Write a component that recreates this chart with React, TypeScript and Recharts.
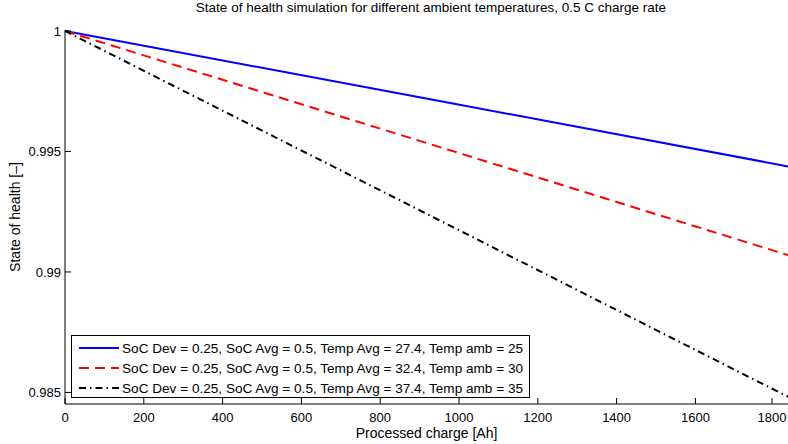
import { Line, LineChart, XAxis, YAxis } from 'recharts';

// values
const charge = [0, 900, 1835];
const sohAmb25 = [1, 0.99725, 0.99438];
const sohAmb30 = [1, 0.99544, 0.9907];
const sohAmb35 = [1, 0.99256, 0.98482];

const xTicks = [0, 200, 400, 600, 800, 1000, 1200, 1400, 1600, 1800];
const yTicks = [0.985, 0.99, 0.995, 1];
const yTickLabels = ['0.985', '0.99', '0.995', '1'];

const seriesNames = [
  'SoC Dev = 0.25, SoC Avg = 0.5, Temp Avg = 27.4, Temp amb = 25',
  'SoC Dev = 0.25, SoC Avg = 0.5, Temp Avg = 32.4, Temp amb = 30',
  'SoC Dev = 0.25, SoC Avg = 0.5, Temp Avg = 37.4, Temp amb = 35',
];

const FONT = '"Liberation Sans", Arial, Helvetica, sans-serif';

const data = charge.map((c, i) => ({
  charge: c,
  amb25: sohAmb25[i],
  amb30: sohAmb30[i],
  amb35: sohAmb35[i],
}));

const styles = [
  { key: 'amb25', color: '#0000ff', dash: undefined },
  { key: 'amb30', color: '#ff0000', dash: '10 6' },
  { key: 'amb35', color: '#000000', dash: '7 4 1.5 4' },
];

function BottomTick(props: any) {
  const { x, y, payload } = props;
  return (
    <g>
      <line x1={x} x2={x} y1={y} y2={y - 6} stroke="#000" />
      <text x={x} y={y + 18} textAnchor="middle" fontSize={13} fill="#000" fontFamily={FONT}>
        {payload.value}
      </text>
    </g>
  );
}

function TopTick(props: any) {
  const { x, y } = props;
  return <line x1={x} x2={x} y1={y} y2={y + 6} stroke="#000" />;
}

function LeftTick(props: any) {
  const { x, y, payload } = props;
  const idx = yTicks.indexOf(payload.value);
  return (
    <g>
      <line x1={x} x2={x + 6} y1={y} y2={y} stroke="#000" />
      <text x={x - 4} y={y + 5} textAnchor="end" fontSize={13} fill="#000" fontFamily={FONT}>
        {idx >= 0 ? yTickLabels[idx] : payload.value}
      </text>
    </g>
  );
}

function LegendBox() {
  return (
    <svg width={460} height={64} style={{ display: 'block' }}>
      <rect x={0.5} y={0.5} width={458} height={62} fill="#fff" stroke="#000" />
      {styles.map((s, i) => (
        <g key={s.key}>
          <line
            x1={8}
            x2={48}
            y1={13 + i * 20}
            y2={13 + i * 20}
            stroke={s.color}
            strokeWidth={2}
            strokeDasharray={s.dash}
          />
          <text x={51} y={18 + i * 20} fontSize={13.6} fill="#000" fontFamily={FONT}>
            {seriesNames[i]}
          </text>
        </g>
      ))}
    </svg>
  );
}

export default function App() {
  return (
    <div style={{ position: 'relative', width: 788, height: 444, overflow: 'hidden', background: '#fff' }}>
      <style>{'body{margin:0}'}</style>
      <LineChart
        width={788}
        height={444}
        data={data}
        margin={{ top: 30, right: 0, left: 0, bottom: 0 }}
        style={{ fontFamily: FONT }}
      >
        <XAxis
          dataKey="charge"
          type="number"
          domain={[0, 1835]}
          ticks={xTicks}
          allowDataOverflow
          height={40}
          tickSize={0}
          tickMargin={0}
          tick={<BottomTick />}
          tickLine={false}
          axisLine={{ stroke: '#000' }}
          label={{
            value: 'Processed charge [Ah]',
            position: 'insideBottom',
            offset: 6,
            fontSize: 14,
            fill: '#000',
          }}
        />
        <XAxis
          xAxisId="top"
          dataKey="charge"
          type="number"
          orientation="top"
          domain={[0, 1835]}
          ticks={xTicks}
          allowDataOverflow
          height={0}
          tickSize={0}
          tickMargin={0}
          tick={<TopTick />}
          tickLine={false}
          axisLine={{ stroke: '#000' }}
        />
        <YAxis
          type="number"
          domain={[0.98452, 1.00004]}
          ticks={yTicks}
          allowDataOverflow
          width={65}
          tickSize={0}
          tickMargin={0}
          tick={<LeftTick />}
          tickLine={false}
          axisLine={{ stroke: '#000' }}
          label={{
            value: 'State of health [–]',
            angle: -90,
            position: 'insideLeft',
            offset: 15,
            fontSize: 14,
            fill: '#000',
            style: { textAnchor: 'middle' },
          }}
        />
        {styles.map((s, i) => (
          <Line
            key={s.key}
            dataKey={s.key}
            name={seriesNames[i]}
            stroke={s.color}
            strokeWidth={2}
            strokeDasharray={s.dash}
            dot={false}
            activeDot={false}
            isAnimationActive={false}
          />
        ))}
      </LineChart>
      <div style={{ position: 'absolute', left: 71, top: 335 }}>
        <LegendBox />
      </div>
      <div
        style={{
          position: 'absolute',
          left: 0,
          top: 1,
          width: 862,
          textAlign: 'center',
          fontFamily: FONT,
          fontSize: 13.5,
          color: '#000',
          lineHeight: '14px',
          whiteSpace: 'nowrap',
        }}
      >
        State of health simulation for different ambient temperatures, 0.5 C charge rate
      </div>
    </div>
  );
}
